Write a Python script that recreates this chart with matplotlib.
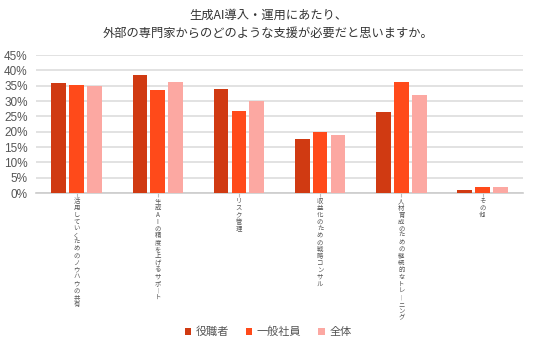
import matplotlib
matplotlib.use("Agg")
import matplotlib.pyplot as plt
import numpy as np

plt.rcParams['font.family'] = ['Noto Sans CJK JP', 'DejaVu Sans']

# data (percent)
categories = ["活用していくためのノウハウの共有",
              "生成AIの精度を上げるサポート",
              "リスク管理",
              "収益化のための戦略コンサル",
              "人材育成のための継続的なトレーニング",
              "その他"]
series_names = ["役職者", "一般社員", "全体"]
yakushoku = [35.8, 38.5, 33.8, 17.7, 26.4, 0.9]
ippan     = [35.2, 33.6, 26.7, 19.9, 36.3, 2.0]
zentai    = [34.9, 36.1, 30.0, 18.9, 32.0, 2.0]
colors = ["#D03A12", "#FF4A1A", "#FCA8A2"]
yticks = [0, 5, 10, 15, 20, 25, 30, 35, 40, 45]


def vertical(s):
    # stack characters top to bottom, long vowel mark turned upright
    return "\n".join("︱" if c == "ー" else c for c in s)


fig = plt.figure(figsize=(5.36, 3.46), dpi=100)
ax = fig.add_axes([0.067, 0.442, 0.909, 0.399])

x = np.arange(len(categories))
width = 0.18
offsets = [-0.22, 0.0, 0.22]
for vals, off, col, name in zip([yakushoku, ippan, zentai], offsets, colors, series_names):
    ax.bar(x + off, vals, width, color=col, label=name, zorder=3)

ax.set_xlim(-0.5, len(categories) - 0.5)
ax.set_ylim(0, 45)
ax.set_yticks(yticks)
ax.set_yticklabels(["%d%%" % v for v in yticks], color="#555555", fontsize=8.5,
                   family=['Liberation Sans', 'DejaVu Sans'])
ax.tick_params(axis='y', length=0, pad=6)
ax.grid(axis='y', color="#DDDDDD", linewidth=1.2, zorder=0)
for side in ["top", "right", "left"]:
    ax.spines[side].set_visible(False)
ax.spines["bottom"].set_color("#CCCCCC")
ax.spines["bottom"].set_linewidth(1.2)

ax.set_xticks(x)
ax.set_xticklabels([])
ax.tick_params(axis='x', length=3, color="#BBBBBB")
for xi, lab in zip(x, categories):
    ax.text(xi, -1.3, vertical(lab), ha='center', va='top', fontsize=4.6,
            color="#555555", linespacing=0.81)

fig.text(0.5, 0.955, "生成AI導入・運用にあたり、", ha='center', va='center',
         fontsize=8.8, color="#333333")
fig.text(0.5, 0.905, "外部の専門家からのどのような支援が必要だと思いますか。", ha='center',
         va='center', fontsize=8.8, color="#333333")

fig.legend(loc='center', bbox_to_anchor=(0.5, 0.04), ncol=3, frameon=False,
           fontsize=8, handlelength=0.6, handleheight=0.6, handletextpad=0.4,
           columnspacing=1.5, labelcolor="#555555")

fig.savefig("out.png", dpi=100)
